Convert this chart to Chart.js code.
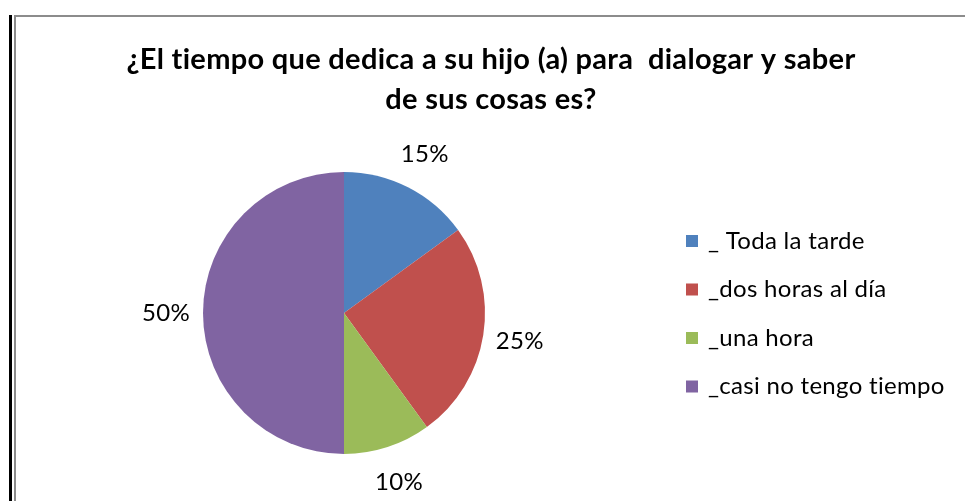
<!DOCTYPE html>
<html>
<head>
<meta charset="utf-8">
<script src="https://cdn.jsdelivr.net/npm/chart.js@4"></script>
<style>
  html, body { margin: 0; padding: 0; background: #fff; }
  #wrap { width: 965px; height: 501px; position: relative; }
</style>
</head>
<body>
<div id="wrap"><canvas id="pie"></canvas></div>
<script>
const titleLines = ['¿El tiempo que dedica a su hijo (a) para  dialogar y saber', 'de sus cosas es?'];
const categories = ['_ Toda la tarde', '_dos horas al día', '_una hora', '_casi no tengo tiempo'];
const values = [15, 25, 10, 50];
const sliceColors = ['#4F81BD', '#C0504D', '#9BBB59', '#8064A2'];

const FONT = 'Lato, Carlito, Calibri, sans-serif';

// marco, titulo, etiquetas y leyenda dibujados a mano
const decorPlugin = {
    id: 'decor',
    afterDraw(chart) {
        const ctx = chart.ctx;
        ctx.save();
        // marco
        ctx.fillStyle = '#000';
        ctx.fillRect(9, 15, 3, 486);
        ctx.fillStyle = '#8c8c8c';
        ctx.fillRect(14, 15, 951, 2);
        ctx.fillRect(14, 15, 2, 486);

        // espaciado pequeño: tambien quita la ligadura "ti" de Lato
        if ('letterSpacing' in ctx) ctx.letterSpacing = '0.3px';

        // titulo
        ctx.fillStyle = '#000';
        ctx.font = 'bold 29px ' + FONT;
        ctx.textAlign = 'center';
        ctx.textBaseline = 'middle';
        ctx.fillText(titleLines[0], 491, 60);
        ctx.fillText(titleLines[1], 491, 100);

        // etiquetas de porcentaje
        const meta = chart.getDatasetMeta(0);
        const total = values.reduce((a, b) => a + b, 0);
        ctx.font = '24px ' + FONT;
        meta.data.forEach((arc, i) => {
            const mid = (arc.startAngle + arc.endAngle) / 2;
            const r = arc.outerRadius + 37;
            const x = arc.x + Math.cos(mid) * r;
            const y = arc.y + Math.sin(mid) * r;
            ctx.fillText(Math.round(values[i] / total * 100) + '%', x, y);
        });

        // leyenda
        ctx.textAlign = 'left';
        ctx.font = '24px ' + FONT;
        categories.forEach((c, i) => {
            const y = 241 + i * 48.5;
            ctx.fillStyle = sliceColors[i];
            ctx.fillRect(686, y - 6, 12, 12);
            ctx.fillStyle = '#000';
            ctx.fillText(c, 708, y);
        });
        ctx.restore();
    }
};

new Chart(document.getElementById('pie'), {
    type: 'pie',
    data: {
        labels: categories,
        datasets: [{
            data: values,
            backgroundColor: sliceColors,
            borderWidth: 0
        }]
    },
    options: {
        responsive: true,
        maintainAspectRatio: false,
        animation: false,
        layout: { padding: { top: 172, bottom: 47, left: 203, right: 480 } },
        plugins: {
            legend: { display: false },
            title: { display: false },
            tooltip: { enabled: false }
        }
    },
    plugins: [decorPlugin]
});
</script>
</body>
</html>
